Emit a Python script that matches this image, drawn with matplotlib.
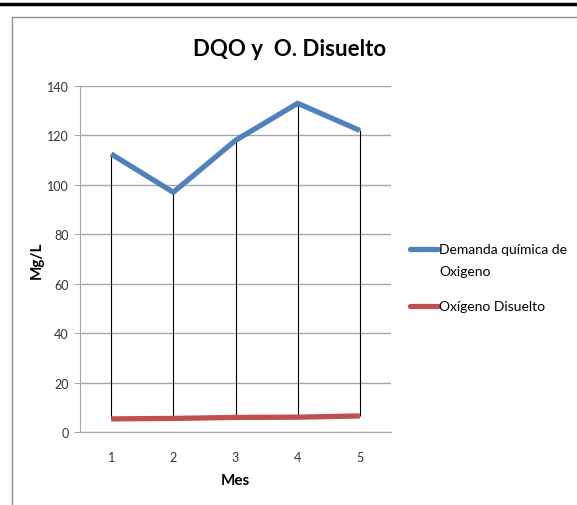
import matplotlib
matplotlib.use('Agg')
import matplotlib.pyplot as plt
from matplotlib.lines import Line2D
from matplotlib.patches import Rectangle

# monthly readings, mg/L
meses = [1, 2, 3, 4, 5]
dqo = [112.5, 97.0, 118.0, 133.0, 122.0]
od = [5.3, 5.5, 5.9, 6.0, 6.5]
yticks = [0, 20, 40, 60, 80, 100, 120, 140]
series_labels = ['Demanda química de\nOxigeno', 'Oxígeno Disuelto']

BLUE = '#4F81BD'
RED = '#C0504D'
GRID = '#A6A6A6'
W, H = 577, 506

plt.rcParams['font.family'] = ['Lato', 'DejaVu Sans']

fig = plt.figure(figsize=(W / 100, H / 100), dpi=100)

# page rule and chart frame
fig.add_artist(Line2D([0, 1], [1 - 5 / H, 1 - 5 / H], color='black', lw=2.5,
                      transform=fig.transFigure))
fig.add_artist(Rectangle((12 / W, -0.05), 1.0, 1 - 18 / H + 0.05,
                         transform=fig.transFigure, fill=False,
                         edgecolor='#8C8C8C', lw=1.0))

ax = fig.add_axes([80 / W, 1 - 433 / H, 311 / W, 346 / H])

# high-low lines between the two series
ax.vlines(meses, od, dqo, color='black', lw=0.8, zorder=2)
ax.plot(meses, dqo, color=BLUE, lw=3.8, solid_capstyle='butt', zorder=3)
ax.plot(meses, od, color=RED, lw=3.8, solid_capstyle='butt', zorder=3)

ax.set_xlim(0.5, 5.5)
ax.set_ylim(0, 140)
ax.set_yticks(yticks)
ax.set_xticks(meses)
ax.yaxis.grid(True, color=GRID, lw=1.0)
ax.set_axisbelow(True)
for side in ['top', 'right']:
    ax.spines[side].set_visible(False)
ax.spines['left'].set_color(GRID)
ax.spines['bottom'].set_color(GRID)
ax.tick_params(axis='y', length=4, color=GRID, labelsize=9, pad=4,
               labelcolor='#333333')
ax.tick_params(axis='x', length=0, labelsize=9, pad=14, labelcolor='#333333')

ax.set_xlabel('Mes', fontsize=11, fontweight='bold', labelpad=7)
ax.set_ylabel('Mg/L', fontsize=11, fontweight='bold', labelpad=2)

fig.text(290 / W, 1 - 50 / H, 'DQO y  O. Disuelto', ha='center', va='center',
         fontsize=16, fontweight='bold')

# legend: swatch sits on the first line of each entry
for label, color, ypx in zip(series_labels, [BLUE, RED], [250, 307]):
    yf = 1 - ypx / H
    fig.add_artist(Line2D([410 / W, 438 / W], [yf, yf], color=color, lw=3.8,
                          solid_capstyle='round', transform=fig.transFigure))
    first, *rest = label.split('\n')
    fig.text(439 / W, yf, first, ha='left', va='center', fontsize=10)
    for i, line in enumerate(rest, start=1):
        fig.text(439 / W, yf - 22 * i / H, line, ha='left', va='center',
                 fontsize=10)

fig.savefig('out.png', dpi=100)
